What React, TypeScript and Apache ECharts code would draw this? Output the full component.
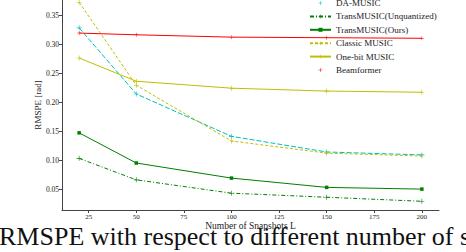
import React, { useEffect, useRef } from "react";
import * as echarts from "echarts";

const snapshots = [20, 50, 100, 150, 200];
const daMusic = [0.328, 0.214, 0.141, 0.114, 0.109];
const transUnquantized = [0.103, 0.066, 0.043, 0.036, 0.029];
const transOurs = [0.147, 0.095, 0.069, 0.053, 0.05];
const classicMusic = [0.372, 0.229, 0.133, 0.112, 0.107];
const oneBitMusic = [0.276, 0.236, 0.224, 0.219, 0.217];
const beamformer = [0.319, 0.316, 0.312, 0.311, 0.31];

const xTicks = [25, 50, 75, 100, 125, 150, 175, 200];
const yTicks = [0.05, 0.1, 0.15, 0.2, 0.25, 0.3, 0.35];

const names = [
  "DA-MUSIC",
  "TransMUSIC(Unquantized)",
  "TransMUSIC(Ours)",
  "Classic MUSIC",
  "One-bit MUSIC",
  "Beamformer",
];
const caption = "RMSPE with respect to different number of snapshots";

const PLUS = "path://M0,4.4H10V5.6H0ZM4.4,0H5.6V10H4.4Z";
const SERIF = "'Liberation Serif', 'DejaVu Serif', serif";

export default function App() {
  const ref = useRef<HTMLDivElement>(null);
  useEffect(() => {
    document.body.style.margin = "0";
    if (!ref.current) return;
    const chart = echarts.init(ref.current, undefined, { renderer: "svg" });
    const pair = (arr: number[]) => snapshots.map((x, i) => [x, arr[i]]);
    const mk = (
      name: string,
      arr: number[],
      color: string,
      type: any,
      symbol: string,
      symbolSize: number
    ) => ({
      name,
      type: "line",
      data: pair(arr),
      symbol,
      symbolSize,
      showSymbol: true,
      itemStyle: { color },
      lineStyle: { color, width: 1, type },
      emphasis: { disabled: true },
    });
    chart.setOption({
      animation: false,
      backgroundColor: "#fff",
      grid: { left: 62, right: 27, top: 0, bottom: 42, containLabel: false },
      xAxis: {
        type: "value",
        min: 11,
        max: 209,
        name: "Number of Snapshots L",
        nameLocation: "middle",
        nameGap: 11,
        nameMoveOverlap: false,
        nameTextStyle: { fontFamily: SERIF, fontSize: 9.5, color: "#222" },
        axisLine: { lineStyle: { color: "#444", width: 1 } },
        axisTick: { show: true, length: 3, customValues: xTicks, lineStyle: { color: "#444" } },
        axisLabel: {
          customValues: xTicks,
          fontFamily: SERIF,
          fontSize: 7,
          color: "#222",
          margin: 3,
        },
        splitLine: { show: false },
      },
      yAxis: {
        type: "value",
        min: 0.014,
        max: 0.376,
        name: "RMSPE [rad]",
        nameLocation: "middle",
        nameGap: 20,
        nameMoveOverlap: false,
        nameTextStyle: { fontFamily: SERIF, fontSize: 9, color: "#222" },
        axisLine: { show: true, lineStyle: { color: "#444", width: 1 } },
        axisTick: { show: true, length: 3, customValues: yTicks, lineStyle: { color: "#444" } },
        axisLabel: {
          customValues: yTicks,
          formatter: (v: number) => v.toFixed(2),
          fontFamily: SERIF,
          fontSize: 7.5,
          color: "#222",
          margin: 3,
        },
        splitLine: { show: false },
      },
      legend: {
        orient: "vertical",
        left: 309,
        top: -2,
        itemWidth: 21,
        itemHeight: 5,
        itemGap: 3.4,
        padding: 0,
        textStyle: { fontFamily: SERIF, fontSize: 9, color: "#222", lineHeight: 10 },
        data: [
          { name: names[0], lineStyle: { opacity: 0 } },
          { name: names[1] },
          { name: names[2] },
          { name: names[3] },
          { name: names[4] },
          { name: names[5], lineStyle: { opacity: 0 } },
        ],
      },
      series: [
        mk(names[0], daMusic, "#00bfbf", [5, 2], PLUS, 5),
        mk(names[1], transUnquantized, "#008000", [4, 2, 1, 2], PLUS, 5),
        mk(names[2], transOurs, "#008000", "solid", "rect", 3.5),
        mk(names[3], classicMusic, "#bfbf00", [3, 2], PLUS, 5),
        mk(names[4], oneBitMusic, "#bfbf00", "solid", PLUS, 5),
        mk(names[5], beamformer, "#ff0000", "solid", PLUS, 4),
      ],
      graphic: [
        {
          type: "text",
          left: -1,
          top: 223,
          style: {
            text: caption,
            font: "26px 'Liberation Serif', serif",
            fill: "#111",
          },
        },
      ],
    });
    return () => chart.dispose();
  }, []);
  return <div ref={ref} style={{ width: 466, height: 252 }} />;
}
